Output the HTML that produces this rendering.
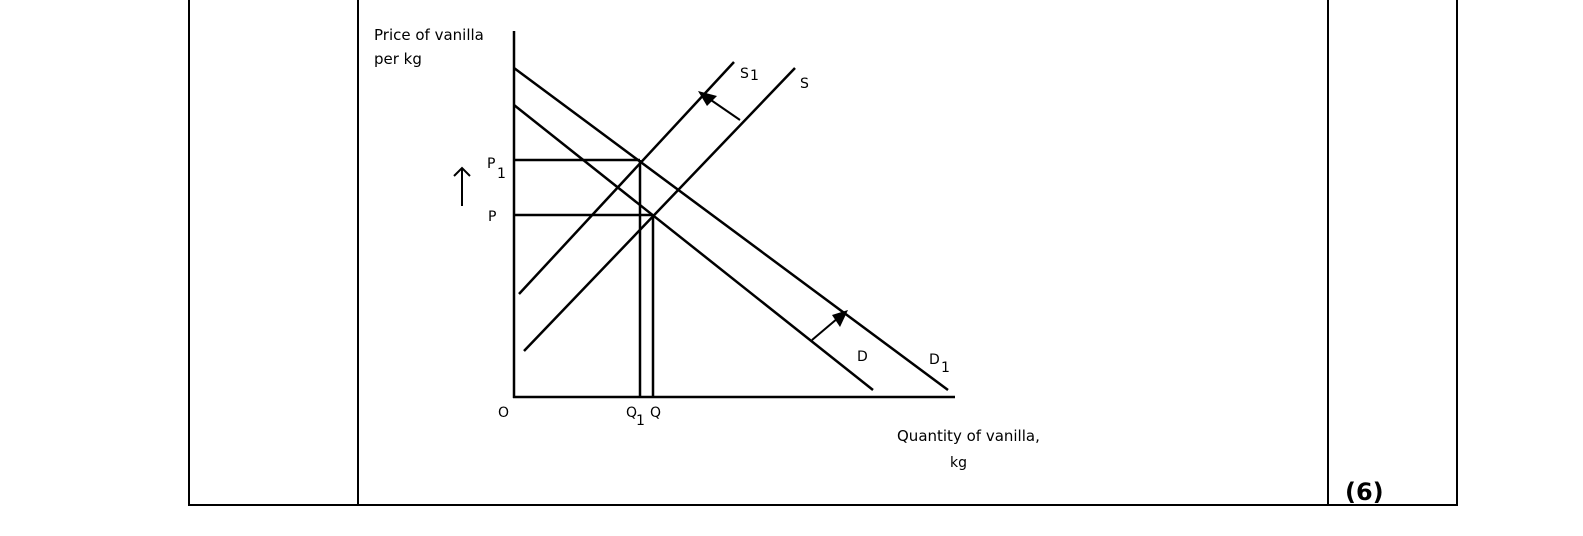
<!DOCTYPE html>
<html><head><meta charset="utf-8"><style>
body{margin:0;background:#fff;width:1583px;height:531px;overflow:hidden}
svg text{font-family:"DejaVu Sans","Liberation Sans",sans-serif;fill:#000}
</style></head><body>
<svg width="1583" height="531" viewBox="0 0 1583 531" xmlns="http://www.w3.org/2000/svg">
<g stroke="#000" stroke-width="2" fill="none">
<line x1="189" y1="0" x2="189" y2="506"/>
<line x1="358" y1="0" x2="358" y2="506"/>
<line x1="1328" y1="0" x2="1328" y2="506"/>
<line x1="1457" y1="0" x2="1457" y2="506"/>
<line x1="188" y1="505" x2="1458" y2="505"/>
<g stroke-width="2.5">
<line x1="514" y1="31" x2="514" y2="398"/>
<line x1="513" y1="397" x2="955" y2="397"/>
<line x1="514" y1="68" x2="948" y2="390"/>
<line x1="514" y1="105" x2="873" y2="390"/>
<line x1="519" y1="294" x2="734" y2="62"/>
<line x1="524" y1="351" x2="795" y2="68"/>
<line x1="514" y1="160" x2="640" y2="160"/>
<line x1="640" y1="160" x2="640" y2="397"/>
<line x1="514" y1="215" x2="653" y2="215"/>
<line x1="653" y1="215" x2="653" y2="397"/>
</g>
<line x1="740" y1="120" x2="708" y2="98"/>
<line x1="812" y1="340" x2="838" y2="318"/>
<line x1="462" y1="168" x2="462" y2="206"/>
<polyline points="454,176 462,168 470,176"/>
</g>
<polygon points="698,91 717,96 707,106" fill="#000"/>
<polygon points="848,310 840,327 832,315" fill="#000"/>
<text x="374" y="40" font-size="15">Price of vanilla</text>
<text x="374" y="64" font-size="15">per kg</text>
<text x="487" y="168" font-size="14">P</text><text x="497" y="178" font-size="14">1</text>
<text x="488" y="221" font-size="14">P</text>
<text x="498" y="417" font-size="14">O</text>
<text x="626" y="417" font-size="14">Q</text><text x="636" y="425" font-size="14">1</text>
<text x="650" y="417" font-size="14">Q</text>
<text x="740" y="78" font-size="14">S</text><text x="750" y="80" font-size="14">1</text>
<text x="800" y="88" font-size="14">S</text>
<text x="857" y="361" font-size="14">D</text>
<text x="929" y="364" font-size="14">D</text><text x="941" y="372" font-size="14">1</text>
<text x="897" y="441" font-size="15">Quantity of vanilla,</text>
<text x="950" y="467" font-size="14">kg</text>
<text x="1345" y="500" font-size="24" font-weight="bold">(6)</text>
</svg>
</body></html>
